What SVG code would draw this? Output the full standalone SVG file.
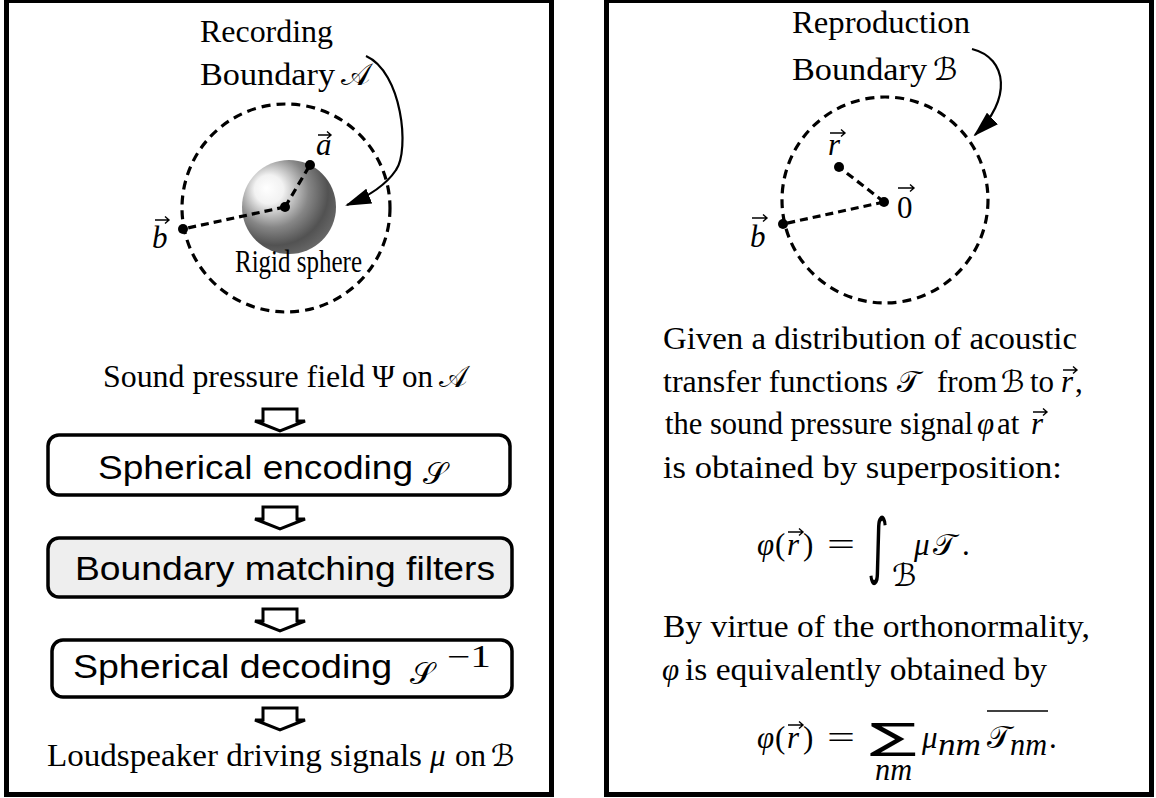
<svg xmlns="http://www.w3.org/2000/svg" width="1156" height="798" viewBox="0 0 1156 798">
  <defs>
    <style>
      .frame { fill: #fff; stroke: #000; stroke-width: 5; }
      .ring { fill: none; stroke: #000; stroke-width: 3.2; stroke-dasharray: 9 6; }
      .radius { fill: none; stroke: #000; stroke-width: 3.2; stroke-dasharray: 8 5; }
      .dot { fill: #000; }
      .serif { font-family: "Liberation Serif", "DejaVu Serif", serif; font-size: 31px; fill: #000; }
      .it { font-style: italic; }
      .cal { font-family: "DejaVu Sans", "Noto Sans", "Liberation Serif", serif; font-style: normal; }
      .sans { font-family: "Liberation Sans", Arial, sans-serif; font-size: 34px; fill: #000; }
      .box { stroke: #000; stroke-width: 3.5; }
      .blockarrow { fill: #fff; stroke: #000; stroke-width: 3; stroke-linejoin: miter; }
      .curve { fill: none; stroke: #000; stroke-width: 2.2; }
      .vec { fill: none; stroke: #000; stroke-width: 1.4; }
    </style>
    <radialGradient id="sphereShade" cx="0.38" cy="0.36" r="0.7" fx="0.26" fy="0.3">
      <stop offset="0" stop-color="#ffffff"/>
      <stop offset="0.22" stop-color="#f2f2f2"/>
      <stop offset="0.55" stop-color="#868686"/>
      <stop offset="0.8" stop-color="#525252"/>
      <stop offset="1" stop-color="#6a6a6a"/>
    </radialGradient>
    <marker id="headFill" viewBox="0 0 26 16" refX="24" refY="8" markerWidth="26" markerHeight="16" markerUnits="userSpaceOnUse" orient="auto">
      <path d="M0,0 L26,8 L0,16 z" fill="#000"/>
    </marker>
  </defs>

  <!-- panel frames -->
  <rect id="frame-left" class="frame" x="6.5" y="0.5" width="545" height="794"/>
  <rect id="frame-right" class="frame" x="606.5" y="0.5" width="545" height="794"/>

  <!-- recording geometry -->
  <g id="recording-boundary">
    <circle class="ring" cx="286" cy="208" r="104"/>
    <circle cx="289" cy="207" r="47" fill="url(#sphereShade)"/>
    <path class="radius" d="M285,207 L310,165 M285,207 L183,229"/>
    <circle class="dot" cx="285" cy="207" r="5"/>
    <circle class="dot" cx="310" cy="165" r="5"/>
    <circle class="dot" cx="183" cy="229" r="5"/>
    <text class="serif" x="200" y="42" textLength="133" lengthAdjust="spacingAndGlyphs">Recording</text>
    <text class="serif" x="200" y="85" textLength="135" lengthAdjust="spacingAndGlyphs">Boundary</text>
    <text class="serif cal" x="341" y="85" font-size="30">𝒜</text>
    <text class="serif it" x="316" y="155">a</text>
    <path class="vec" d="M318,135 H331 M327,131.5 L331,135 L327,138.5"/>
    <text class="serif it" x="152" y="248">b</text>
    <path class="vec" d="M155,220 H169 M165,216.5 L169,220 L165,223.5"/>
    <text class="serif" x="235" y="272" font-size="19" textLength="127" lengthAdjust="spacingAndGlyphs">Rigid sphere</text>
  </g>

  <!-- reproduction geometry -->
  <g id="reproduction-boundary">
    <circle class="ring" cx="885" cy="200" r="103"/>
    <path class="radius" d="M884,202 L839,167 M884,202 L783,224"/>
    <circle class="dot" cx="884" cy="202" r="5"/>
    <circle class="dot" cx="839" cy="167" r="5"/>
    <circle class="dot" cx="783" cy="224" r="5"/>
    <text class="serif" x="792" y="33" textLength="178" lengthAdjust="spacingAndGlyphs">Reproduction</text>
    <text class="serif" x="792" y="80" textLength="135" lengthAdjust="spacingAndGlyphs">Boundary</text>
    <text class="serif cal" x="933" y="80" font-size="30">ℬ</text>
    <text class="serif it" x="828" y="155">r</text>
    <path class="vec" d="M830,133 H845 M841,129.5 L845,133 L841,136.5"/>
    <text class="serif" x="897" y="218">0</text>
    <path class="vec" d="M898,188 H914 M910,184.5 L914,188 L910,191.5"/>
    <text class="serif it" x="750" y="247">b</text>
    <path class="vec" d="M752,218 H767 M763,214.5 L767,218 L763,221.5"/>
  </g>

  <!-- processing chain -->
  <text id="label-input" class="serif" y="387"><tspan x="103" textLength="262" lengthAdjust="spacingAndGlyphs">Sound pressure field</tspan><tspan x="372">Ψ</tspan><tspan x="402">on</tspan><tspan class="cal" x="439" font-size="30">𝒜</tspan></text>

  <g id="node-encode">
    <rect class="box" x="48" y="435" width="462" height="60" rx="11" fill="#fff"/>
    <text class="sans" x="98" y="479" textLength="315" lengthAdjust="spacingAndGlyphs">Spherical encoding</text>
    <text class="serif cal" x="423" y="484" font-size="36">𝒮</text>
  </g>
  <g id="node-filter">
    <rect class="box" x="48" y="538" width="464" height="59" rx="11" fill="#eeeeee"/>
    <text class="sans" x="75" y="580" textLength="420" lengthAdjust="spacingAndGlyphs">Boundary matching filters</text>
  </g>
  <g id="node-decode">
    <rect class="box" x="52" y="640" width="460" height="57" rx="11" fill="#fff"/>
    <text class="sans" x="73" y="678" textLength="319" lengthAdjust="spacingAndGlyphs">Spherical decoding</text>
    <text class="serif cal" x="410" y="684" font-size="36">𝒮</text>
    <text class="serif" x="447" y="667" font-size="26" textLength="44" lengthAdjust="spacingAndGlyphs">−1</text>
  </g>

  <text id="label-output" class="serif" y="766"><tspan x="47" textLength="375" lengthAdjust="spacingAndGlyphs">Loudspeaker driving signals</tspan><tspan class="it" x="430">μ</tspan><tspan x="455">on</tspan><tspan class="cal" x="491" font-size="30">ℬ</tspan></text>

  <!-- connectors -->
  <g id="connectors">
    <polygon class="blockarrow" points="263,409 297,409 297,421 305,421 280,431 255,421 263,421"/>
    <polygon class="blockarrow" points="263,507 297,507 297,519 305,519 280,529 255,519 263,519"/>
    <polygon class="blockarrow" points="263,609 297,609 297,621 305,621 280,631 255,621 263,621"/>
    <polygon class="blockarrow" points="263,708 297,708 297,720 305,720 280,730 255,720 263,720"/>
    <path class="curve" d="M366,56 C402,72 410,150 396,170 C388,182 372,195 347,205" marker-end="url(#headFill)"/>
    <path class="curve" d="M972,49 C1008,58 1012,100 975,135" marker-end="url(#headFill)"/>
  </g>

  <!-- explanatory text -->
  <g id="explanation">
    <text class="serif" x="663" y="349" textLength="414" lengthAdjust="spacingAndGlyphs">Given a distribution of acoustic</text>
    <text class="serif" y="392"><tspan x="663" textLength="225" lengthAdjust="spacingAndGlyphs">transfer functions</tspan><tspan class="cal" x="897" font-size="30">𝒯</tspan><tspan x="937">from</tspan><tspan class="cal" x="1001" font-size="30">ℬ</tspan><tspan x="1030">to</tspan><tspan class="it" x="1061">r</tspan><tspan x="1075">,</tspan></text>
    <path class="vec" d="M1063,370 H1077 M1073,366.5 L1077,370 L1073,373.5"/>
    <text class="serif" y="434"><tspan x="665" textLength="308" lengthAdjust="spacingAndGlyphs">the sound pressure signal</tspan><tspan class="it" x="977">φ</tspan><tspan x="997">at</tspan><tspan class="it" x="1031">r</tspan></text>
    <path class="vec" d="M1033,412 H1047 M1043,408.5 L1047,412 L1043,415.5"/>
    <text class="serif" x="663" y="478" textLength="399" lengthAdjust="spacingAndGlyphs">is obtained by superposition:</text>

    <text class="serif" y="555"><tspan class="it" x="757">φ</tspan><tspan x="775">(</tspan><tspan class="it" x="787">r</tspan><tspan x="803">)</tspan><tspan x="827" textLength="28" lengthAdjust="spacingAndGlyphs">=</tspan></text>
    <path class="vec" d="M788,532 H803 M799,528.5 L803,532 L799,535.5"/>
    <text x="867" y="570" font-family="DejaVu Sans, sans-serif" font-size="72" textLength="22" lengthAdjust="spacingAndGlyphs">∫</text>
    <text class="serif cal" x="892" y="586" font-size="20">ℬ</text>
    <text class="serif" y="555"><tspan class="it" x="914">μ</tspan><tspan class="cal" x="933" font-size="30">𝒯</tspan><tspan x="962">.</tspan></text>

    <text class="serif" x="663" y="637" textLength="427" lengthAdjust="spacingAndGlyphs">By virtue of the orthonormality,</text>
    <text class="serif" y="680"><tspan class="it" x="662">φ</tspan><tspan x="685" textLength="362" lengthAdjust="spacingAndGlyphs">is equivalently obtained by</tspan></text>

    <text class="serif" y="748"><tspan class="it" x="757">φ</tspan><tspan x="775">(</tspan><tspan class="it" x="787">r</tspan><tspan x="803">)</tspan><tspan x="827" textLength="28" lengthAdjust="spacingAndGlyphs">=</tspan></text>
    <path class="vec" d="M788,725 H803 M799,721.5 L803,725 L799,728.5"/>
    <text x="870" y="749" font-family="DejaVu Sans, sans-serif" font-size="36" textLength="47" lengthAdjust="spacingAndGlyphs">∑</text>
    <text class="serif it" x="875" y="780" font-size="21" textLength="37" lengthAdjust="spacingAndGlyphs">nm</text>
    <text class="serif" y="748"><tspan class="it" x="922">μ</tspan></text>
    <text class="serif it" x="938" y="755" font-size="21" textLength="43" lengthAdjust="spacingAndGlyphs">nm</text>
    <text class="serif cal" x="987" y="748" font-size="30">𝒯</text>
    <text class="serif it" x="1010" y="755" font-size="21" textLength="37" lengthAdjust="spacingAndGlyphs">nm</text>
    <line x1="987" y1="711" x2="1048" y2="711" stroke="#000" stroke-width="1.5"/>
    <text class="serif" x="1049" y="748">.</text>
  </g>
</svg>
